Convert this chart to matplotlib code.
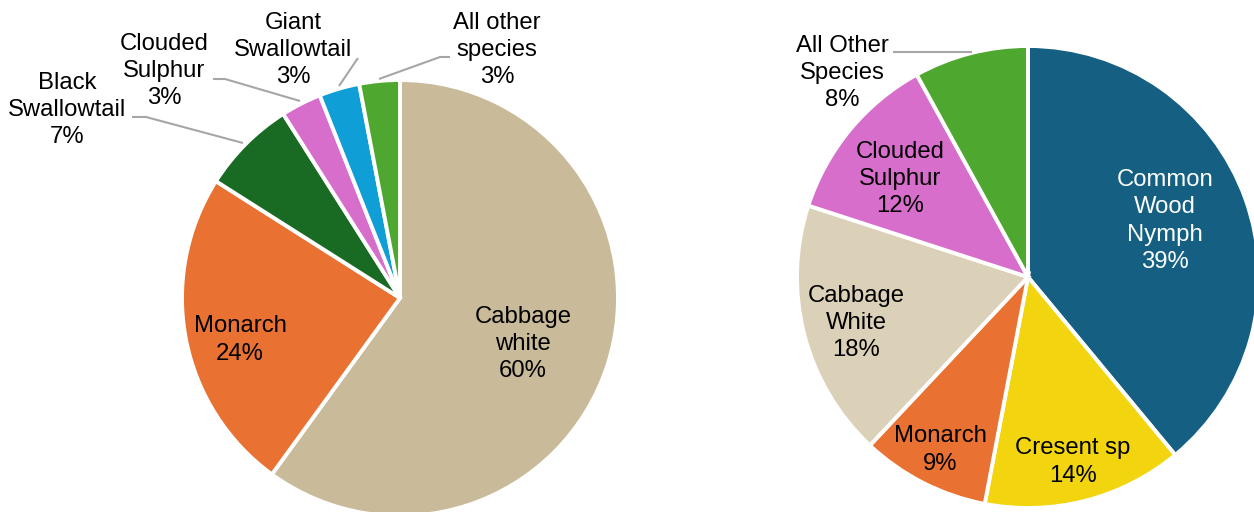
import matplotlib
matplotlib.use("Agg")
import matplotlib.pyplot as plt

plt.rcParams["font.family"] = ["Liberation Sans", "DejaVu Sans"]

# Butterfly species shares, first survey
left_names = ["Cabbage\nwhite", "Monarch", "Black\nSwallowtail", "Clouded\nSulphur",
              "Giant\nSwallowtail", "All other\nspecies"]
left_values = [60, 24, 7, 3, 3, 3]
left_colors = ["#C9BA99", "#E97132", "#196B24", "#D86ECC", "#0F9ED5", "#4EA72E"]

# Butterfly species shares, second survey
right_names = ["Common\nWood\nNymph", "Cresent sp", "Monarch", "Cabbage\nWhite",
               "Clouded\nSulphur", "All Other\nSpecies"]
right_values = [39, 14, 9, 18, 12, 8]
right_colors = ["#156082", "#F2D50F", "#E97132", "#DBD0B8", "#D86ECC", "#4EA72E"]

W, H = 1254, 512
fig = plt.figure(figsize=(W / 100, H / 100), dpi=100)
ax = fig.add_axes([0, 0, 1, 1])


def fy(y):
    # pixel row (from top) -> data y
    return H - y


wedge_style = dict(edgecolor="white", linewidth=2.8)
ax.pie(left_values, colors=left_colors, startangle=90, counterclock=False,
       center=(400, fy(298)), radius=218, wedgeprops=wedge_style)
ax.pie(right_values, colors=right_colors, startangle=90, counterclock=False,
       center=(1028, fy(277)), radius=231, wedgeprops=wedge_style)

FS = 17.2
text_kw = dict(ha="center", va="center", multialignment="center",
               fontsize=FS, linespacing=1.3)

# label anchor positions (x, y-from-top) and colours
left_pos = [(523, 344), (240, 340), (67, 110), (164, 71), (293, 50), (497, 50)]
right_pos = [(1165, 221), (1073, 462), (940, 450), (856, 323), (900, 179), (842, 73)]
right_text_colors = ["white", "black", "black", "black", "black", "black"]

for name, val, (x, y) in zip(left_names, left_values, left_pos):
    ax.text(x, fy(y), f"{name}\n{val}%", color="black", **text_kw)
for name, val, (x, y), c in zip(right_names, right_values, right_pos, right_text_colors):
    ax.text(x, fy(y), f"{name}\n{val}%", color=c, **text_kw)

# leader lines for the small slices
leaders = [
    [(132, 117), (146, 117), (243, 143)],
    [(213, 79), (225, 79), (300, 101)],
    [(358, 58), (339, 86)],
    [(450, 57), (440, 57), (379, 79)],
    [(893, 52), (972, 52)],
]
for pts in leaders:
    ax.plot([p[0] for p in pts], [fy(p[1]) for p in pts], color="#A6A6A6",
            linewidth=1.5, solid_capstyle="butt")

ax.set_xlim(0, W)
ax.set_ylim(0, H)
ax.set_aspect("equal")
ax.axis("off")

fig.savefig("out.png", dpi=100, facecolor="white")
